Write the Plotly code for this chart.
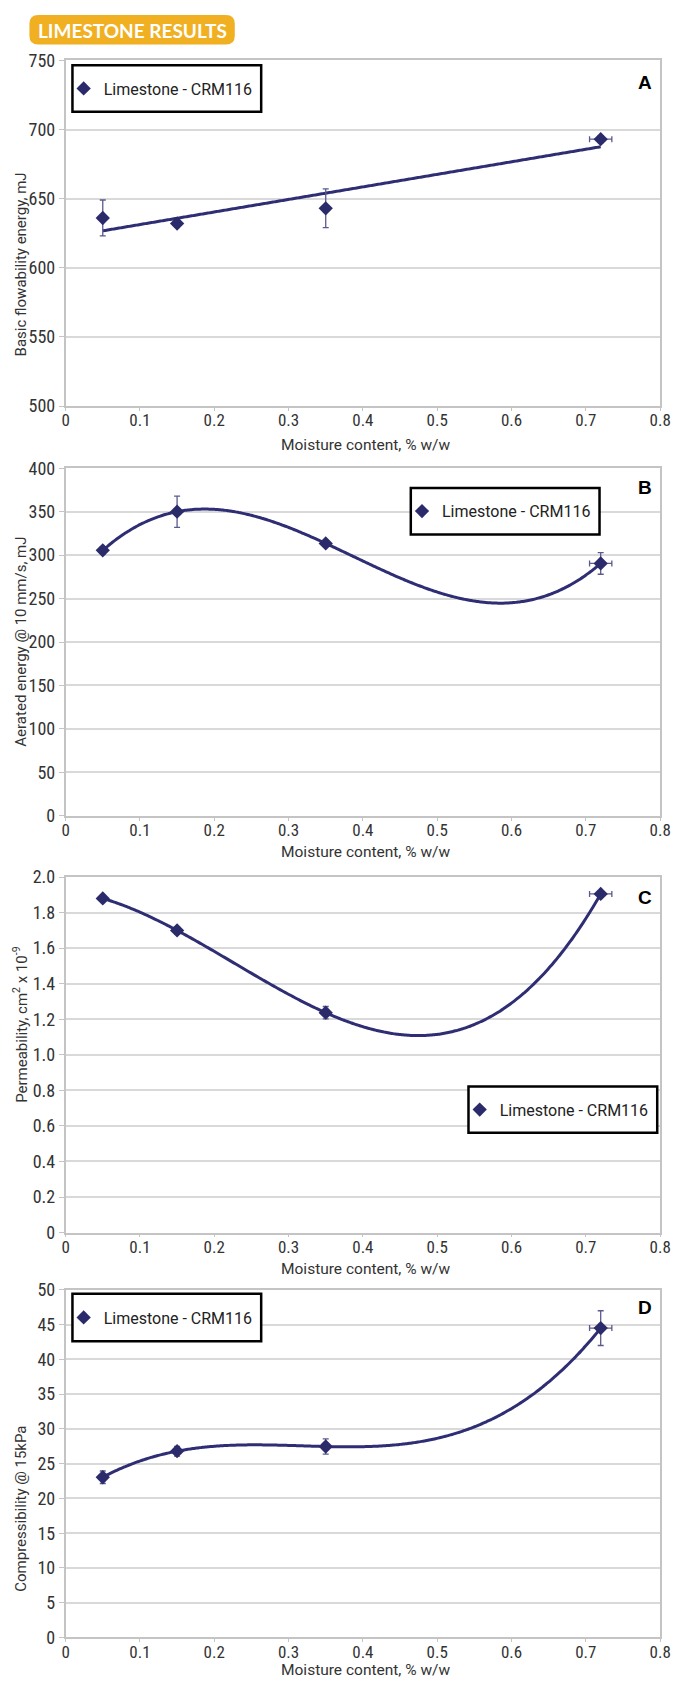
import numpy as np
import plotly.graph_objects as go

# ---------------- data ----------------
moisture = [0.05, 0.15, 0.35, 0.72]
moisture_err = [0.0, 0.0, 0.0, 0.015]

basic_flow_energy = [636, 632, 643, 693]
basic_flow_energy_err = [13, 1.5, 14, 2.5]

aerated_energy = [305.5, 350, 313.5, 290.5]
aerated_energy_err = [4, 18, 3, 12.5]

permeability = [1.88, 1.70, 1.237, 1.905]
permeability_err = [0.015, 0.02, 0.035, 0.01]

compressibility = [23.05, 26.8, 27.47, 44.5]
compressibility_err = [0.9, 0.7, 1.1, 2.5]

x_ticks = [0, 0.1, 0.2, 0.3, 0.4, 0.5, 0.6, 0.7, 0.8]
x_ticktext = ["0", "0.1", "0.2", "0.3", "0.4", "0.5", "0.6", "0.7", "0.8"]

series_name = "Limestone - CRM116"
x_title = "Moisture content, % w/w"

# ---------------- styling / layout ----------------
W, H = 678, 1687
NAVY = "#2b2a6b"
LINE = "#2f2e74"
ERR = "#5a5a8e"
GRID = "#d9d9d9"
AXL = "#c4c4c4"
TXT = "#333333"
NARROW = "Liberation Sans Narrow, Roboto Condensed, Roboto, sans-serif"
TITLEF = "Roboto, Lato, sans-serif"


def px(x):
    return x / W


def py(y):
    return 1 - y / H


panels = [
    dict(y=basic_flow_energy, e=basic_flow_energy_err, deg=1, rng=[500, 750],
         tv=[500, 550, 600, 650, 700, 750], tt=["500", "550", "600", "650", "700", "750"],
         ytitle="Basic flowability energy, mJ", ytc=257, letter="A", ly=72,
         top=50, bot=400, box=(70, 55, 263, 102), xtc=439),
    dict(y=aerated_energy, e=aerated_energy_err, deg=3, rng=[0, 400],
         tv=list(range(0, 401, 50)), tt=[str(v) for v in range(0, 401, 50)],
         ytitle="Aerated energy @ 10 mm/s, mJ", ytc=639, letter="B", ly=482,
         top=463, bot=815, box=(416, 483, 609, 530), xtc=852),
    dict(y=permeability, e=permeability_err, deg=3, rng=[0, 2.0],
         tv=[0, 0.2, 0.4, 0.6, 0.8, 1.0, 1.2, 1.4, 1.6, 1.8, 2.0],
         tt=["0", "0.2", "0.4", "0.6", "0.8", "1.0", "1.2", "1.4", "1.6", "1.8", "2.0"],
         ytitle="Permeability, cm<sup>2</sup> x 10<sup>-9</sup>", ytc=1027, letter="C", ly=898,
         top=877, bot=1237, box=(475, 1089, 668, 1136), xtc=1274),
    dict(y=compressibility, e=compressibility_err, deg=3, rng=[0, 50],
         tv=list(range(0, 51, 5)), tt=[str(v) for v in range(0, 51, 5)],
         ytitle="Compressibility @ 15kPa", ytc=1517, letter="D", ly=1313,
         top=1295, bot=1647, box=(70, 1299, 263, 1347), xtc=1680),
]

fig = go.Figure()
layout = dict(
    width=W, height=H, margin=dict(l=0, r=0, t=0, b=0),
    paper_bgcolor="white", plot_bgcolor="white", showlegend=True,
)
shapes = []
annotations = []

for i, p in enumerate(panels, start=1):
    xa = "x" if i == 1 else f"x{i}"
    ya = "y" if i == 1 else f"y{i}"
    lg = "legend" if i == 1 else f"legend{i}"

    # trendline (Excel-style fit through the data)
    coef = np.polyfit(moisture, p["y"], p["deg"])
    xf = np.linspace(min(moisture), max(moisture), 200)
    fig.add_trace(go.Scatter(
        x=xf, y=np.polyval(coef, xf), mode="lines", xaxis=xa, yaxis=ya,
        line=dict(color=LINE, width=3, shape="spline"), showlegend=False,
        hoverinfo="skip"))

    fig.add_trace(go.Scatter(
        x=moisture, y=p["y"], mode="markers", name=series_name, xaxis=xa, yaxis=ya,
        legend=lg,
        marker=dict(symbol="diamond", size=11, color=NAVY),
        error_y=dict(type="data", array=p["e"], color=ERR, thickness=1.3, width=3),
        error_x=dict(type="data", array=moisture_err, color=ERR, thickness=1.3, width=3),
    ))

    xkey = "xaxis" if i == 1 else f"xaxis{i}"
    ykey = "yaxis" if i == 1 else f"yaxis{i}"
    layout[xkey] = dict(
        domain=[px(63), px(671)], anchor=ya, range=[0, 0.8],
        tickmode="array", tickvals=x_ticks, ticktext=x_ticktext,
        showgrid=False, zeroline=False, showline=True, mirror=True,
        linecolor=AXL, linewidth=1.5, ticks="outside", ticklen=3, tickcolor=AXL,
        ticklabeloverflow="allow", ticklabelstandoff=-5,
        tickfont=dict(family=NARROW, size=17, color=TXT),
    )
    layout[ykey] = dict(
        domain=[py(p["bot"]), py(p["top"])], anchor=xa, range=p["rng"],
        tickmode="array", tickvals=p["tv"], ticktext=p["tt"],
        showgrid=True, gridcolor=GRID, gridwidth=1.5, zeroline=False,
        showline=True, mirror=True, linecolor=AXL, linewidth=1.5,
        ticks="outside", ticklen=5, tickcolor=AXL,
        ticklabeloverflow="allow",
        tickfont=dict(family=NARROW, size=18, color=TXT),
    )

    # legend box
    x0, y0, x1, y1 = p["box"]
    shapes.append(dict(type="rect", xref="paper", yref="paper",
                       x0=px(x0), x1=px(x1), y0=py(y1), y1=py(y0),
                       line=dict(color="black", width=2.5), fillcolor="white",
                       layer="above"))
    layout[lg] = dict(
        x=px(x0 - 9), xanchor="left", y=py((y0 + y1) / 2), yanchor="middle",
        xref="paper", yref="paper",
        bgcolor="rgba(0,0,0,0)", borderwidth=0,
        font=dict(family=TITLEF, size=16, color="#222222"),
        itemwidth=30,
    )

    # y-axis title
    annotations.append(dict(
        text=p["ytitle"], xref="paper", yref="paper", x=px(17), y=py(p["ytc"]),
        xanchor="center", yanchor="middle", textangle=-90, showarrow=False,
        font=dict(family=TITLEF, size=15, color=TXT)))
    # x-axis title
    annotations.append(dict(
        text=x_title, xref="paper", yref="paper", x=px(370), y=py(p["xtc"]),
        xanchor="center", yanchor="middle", showarrow=False,
        font=dict(family=TITLEF, size=15.5, color=TXT)))
    # panel letter
    annotations.append(dict(
        text=f"<b>{p['letter']}</b>", xref="paper", yref="paper", x=px(655), y=py(p["ly"]),
        xanchor="center", yanchor="middle", showarrow=False,
        font=dict(family="Liberation Sans, Arial, sans-serif", size=19, color="black")))

# title badge (rounded rectangle)
bx0, by0, bx1, by1, r = 26, 4, 236, 34, 9
path = (f"M {px(bx0 + r)} {py(by0)} L {px(bx1 - r)} {py(by0)} "
        f"Q {px(bx1)} {py(by0)} {px(bx1)} {py(by0 + r)} "
        f"L {px(bx1)} {py(by1 - r)} Q {px(bx1)} {py(by1)} {px(bx1 - r)} {py(by1)} "
        f"L {px(bx0 + r)} {py(by1)} Q {px(bx0)} {py(by1)} {px(bx0)} {py(by1 - r)} "
        f"L {px(bx0)} {py(by0 + r)} Q {px(bx0)} {py(by0)} {px(bx0 + r)} {py(by0)} Z")
shapes.append(dict(type="path", xref="paper", yref="paper", path=path,
                   fillcolor="#F0B022", line=dict(width=0), layer="above"))
annotations.append(dict(
    text="<b>LIMESTONE RESULTS</b>", xref="paper", yref="paper",
    x=px((bx0 + bx1) / 2), y=py((by0 + by1) / 2 + 1), xanchor="center", yanchor="middle",
    showarrow=False, font=dict(family="Lato, Roboto, sans-serif", size=19, color="white")))

layout["shapes"] = shapes
layout["annotations"] = annotations
fig.update_layout(**layout)

fig.write_html("out.html")
